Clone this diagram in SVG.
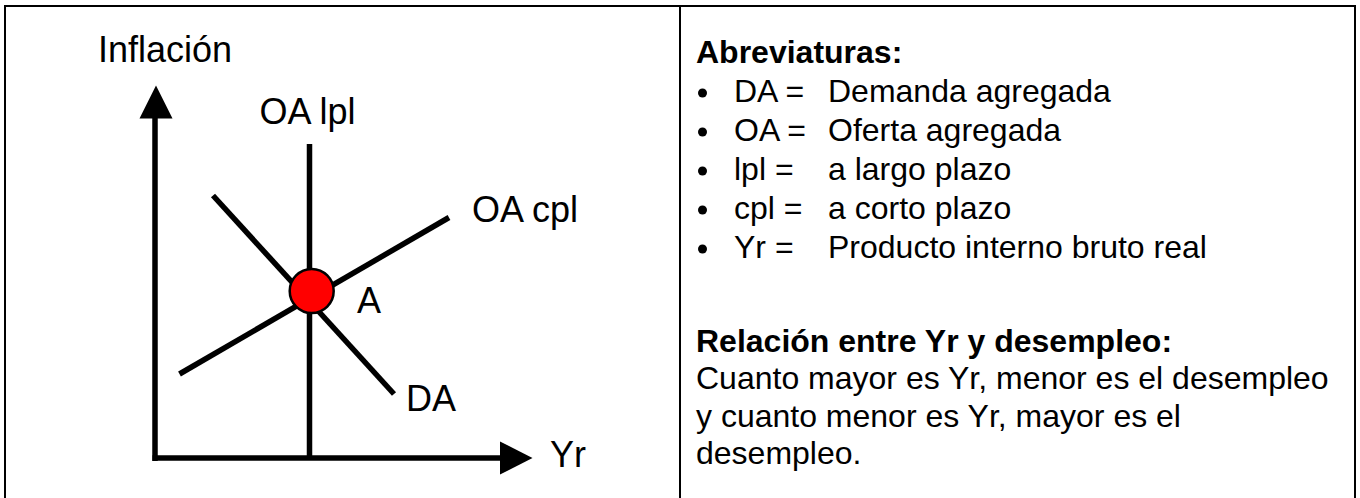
<svg xmlns="http://www.w3.org/2000/svg" width="1360" height="498" viewBox="0 0 1360 498">
  <style>
    .frame { stroke: #000; stroke-width: 2; fill: none; }
    .ln { stroke: #000; stroke-width: 5.5; fill: none; stroke-linecap: butt; }
    .lbl { font-family: "Liberation Sans", Arial, sans-serif; font-size: 36px; fill: #000; }
    .txt { font-family: "Liberation Sans", Arial, sans-serif; font-size: 32px; fill: #000; }
    .hd { font-family: "Liberation Sans", Arial, sans-serif; font-size: 32px; font-weight: bold; fill: #000; }
  </style>
  <rect x="0" y="0" width="1360" height="498" fill="#fff"/>
  <g id="frame">
    <path class="frame" d="M5 498 V6 H1355 V498"/>
    <line class="frame" x1="680" y1="6" x2="680" y2="498"/>
  </g>
  <g id="connectors">
    <line class="ln" x1="155" y1="116" x2="155" y2="461"/>
    <polygon points="156,85.5 139.5,118.5 172.5,118.5" fill="#000"/>
    <line class="ln" x1="152.5" y1="458" x2="502" y2="458"/>
    <polygon points="532.5,458 500,441.5 500,474.5" fill="#000"/>
    <line class="ln" x1="309.5" y1="144" x2="309.5" y2="458"/>
    <line class="ln" x1="213" y1="195.5" x2="394" y2="394"/>
    <line class="ln" x1="179.5" y1="374" x2="449" y2="217.5"/>
  </g>
  <g id="point-A">
    <circle cx="311.7" cy="291" r="22" fill="#ff0000" stroke="#000" stroke-width="2.5"/>
    <text class="lbl" x="357" y="313">A</text>
  </g>
  <g id="label-inflacion"><text class="lbl" x="98" y="62">Inflación</text></g>
  <g id="label-oalpl"><text class="lbl" x="259.5" y="124">OA lpl</text></g>
  <g id="label-oacpl"><text class="lbl" x="472" y="222">OA cpl</text></g>
  <g id="label-da"><text class="lbl" x="406" y="411">DA</text></g>
  <g id="label-yr"><text class="lbl" x="550" y="467">Yr</text></g>
  <g id="legend">
    <text class="hd" x="696" y="63">Abreviaturas:</text>
    <g fill="#000">
      <circle cx="702.5" cy="93" r="4.5"/>
      <circle cx="702.5" cy="132" r="4.5"/>
      <circle cx="702.5" cy="171" r="4.5"/>
      <circle cx="702.5" cy="210" r="4.5"/>
      <circle cx="702.5" cy="249" r="4.5"/>
    </g>
    <text class="txt" x="734" y="102">DA =</text>
    <text class="txt" x="828" y="102">Demanda agregada</text>
    <text class="txt" x="734" y="141">OA =</text>
    <text class="txt" x="828" y="141">Oferta agregada</text>
    <text class="txt" x="734" y="180">lpl =</text>
    <text class="txt" x="828" y="180">a largo plazo</text>
    <text class="txt" x="734" y="219">cpl =</text>
    <text class="txt" x="828" y="219">a corto plazo</text>
    <text class="txt" x="734" y="258">Yr =</text>
    <text class="txt" x="828" y="258">Producto interno bruto real</text>
  </g>
  <g id="relation">
    <text class="hd" x="696" y="352">Relación entre Yr y desempleo:</text>
    <text class="txt" x="696" y="389">Cuanto mayor es Yr, menor es el desempleo</text>
    <text class="txt" x="696" y="427">y cuanto menor es Yr, mayor es el</text>
    <text class="txt" x="696" y="464">desempleo.</text>
  </g>
</svg>
